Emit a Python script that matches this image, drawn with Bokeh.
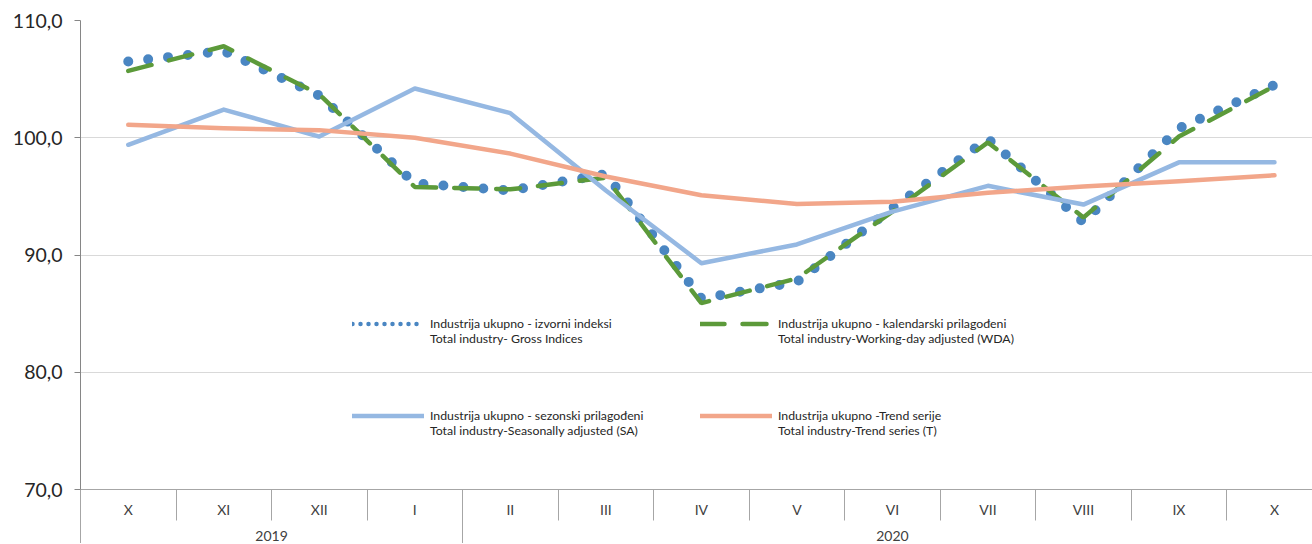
from bokeh.plotting import figure
from bokeh.models import (ColumnDataSource, Range1d, LinearAxis, FixedTicker,
                          Legend, LegendItem, Grid)
from bokeh.embed import file_html
from bokeh.resources import INLINE

# ---------------- data ----------------
months = ["X", "XI", "XII", "I", "II", "III", "IV", "V", "VI", "VII", "VIII", "IX", "X"]
years = ["2019", "2020"]
year_span = [4, 9]          # number of month slots under each year label
gross = [106.5, 107.4, 103.6, 96.1, 95.5, 96.9, 86.3, 87.7, 94.0, 99.9, 92.8, 100.8, 104.5]
wda = [105.7, 107.8, 103.7, 95.8, 95.6, 96.6, 85.9, 88.0, 93.7, 99.6, 93.2, 100.1, 104.4]
sa = [99.4, 102.4, 100.1, 104.2, 102.1, 95.5, 89.3, 90.9, 93.7, 95.9, 94.3, 97.9, 97.9]
trend = [101.1, 100.8, 100.65, 100.0, 98.65, 96.7, 95.1, 94.35, 94.55, 95.3, 95.85, 96.3, 96.8]
y_ticks = [70, 80, 90, 100, 110]
legend_labels = [
    "Industrija ukupno - izvorni indeksi\nTotal industry- Gross Indices",
    "Industrija ukupno - kalendarski prilagođeni\nTotal industry-Working-day adjusted (WDA)",
    "Industrija ukupno - sezonski prilagođeni\nTotal industry-Seasonally adjusted (SA)",
    "Industrija ukupno -Trend serije\nTotal industry-Trend series (T)",
]

C_GROSS = "#4a86c2"
C_WDA = "#5c9a3a"
C_SA = "#95b8e2"
C_TREND = "#f2a68a"
FONT = "Lato"

x = list(range(len(months)))
src = ColumnDataSource(dict(x=x, gross=gross, wda=wda, sa=sa, trend=trend))

p = figure(frame_width=1232, frame_height=469,
           x_range=Range1d(-0.5, 12.398), y_range=Range1d(70, 110),
           x_axis_type=None, y_axis_type=None,
           output_backend="svg", toolbar_location=None,
           min_border=0)
p.min_border_left = 80
p.min_border_top = 20
p.outline_line_color = None
p.background_fill_color = "white"

# grid
p.add_layout(Grid(dimension=1, ticker=FixedTicker(ticks=y_ticks),
                  grid_line_color="#d9d9d9", grid_line_width=1), "center")

# y axis
yax = LinearAxis(ticker=FixedTicker(ticks=y_ticks),
                 major_label_overrides={t: f"{t:.1f}".replace(".", ",") for t in y_ticks})
yax.axis_line_color = "#868686"
yax.major_tick_line_color = "#868686"
yax.major_tick_out = 6
yax.major_tick_in = 0
yax.minor_tick_line_color = None
yax.major_label_standoff = 12
yax.major_label_text_font = FONT
yax.major_label_text_font_size = "19.5px"
yax.major_label_text_color = "#262626"
p.add_layout(yax, "left")

# month axis (minor ticks are the category separators)
xax = LinearAxis(ticker=FixedTicker(ticks=x, minor_ticks=[i - 0.5 for i in x]),
                 major_label_overrides={i: m for i, m in zip(x, months)})
xax.axis_line_color = "#a6a6a6"
xax.major_tick_line_color = None
xax.major_tick_out = 0
xax.major_tick_in = 0
xax.minor_tick_line_color = "#a6a6a6"
xax.minor_tick_out = 31
xax.minor_tick_in = 0
xax.major_label_standoff = -20
xax.major_label_text_font = FONT
xax.major_label_text_font_size = "14px"
xax.major_label_text_color = "#404040"
p.add_layout(xax, "below")

# year axis
centers, bounds, start = [], [], -0.5
for n in year_span:
    bounds.append(start)
    centers.append(start + n / 2)
    start += n
yrax = LinearAxis(ticker=FixedTicker(ticks=centers, minor_ticks=bounds),
                  major_label_overrides={c: yv for c, yv in zip(centers, years)})
yrax.axis_line_color = None
yrax.major_tick_line_color = None
yrax.major_tick_out = 0
yrax.major_tick_in = 0
yrax.minor_tick_line_color = "#a6a6a6"
yrax.minor_tick_in = 10
yrax.minor_tick_out = 27
yrax.major_label_standoff = -17
yrax.major_label_text_font = FONT
yrax.major_label_text_font_size = "14px"
yrax.major_label_text_color = "#404040"
p.add_layout(yrax, "below")

# series
r_gross = p.line("x", "gross", source=src, line_color=C_GROSS, line_width=10,
                 line_dash="0 20", line_cap="round")
r_wda = p.line("x", "wda", source=src, line_color=C_WDA, line_width=4.5,
               line_dash="24 18", line_cap="round")
r_sa = p.line("x", "sa", source=src, line_color=C_SA, line_width=4.5,
              line_join="round", line_cap="round")
r_trend = p.line("x", "trend", source=src, line_color=C_TREND, line_width=4.5,
                 line_join="round", line_cap="round")

# legend-only sample for the dotted series (smaller dots as in the reference)
nan = float("nan")
lg_gross = p.line(x=[nan], y=[nan], line_color=C_GROSS, line_width=4.5,
                  line_dash="0 8", line_cap="round")

# a leading blank line keeps each sample level with the first text line
items = [LegendItem(label="\n" + legend_labels[0], renderers=[lg_gross]),
         LegendItem(label="\n" + legend_labels[1], renderers=[r_wda]),
         LegendItem(label="\n" + legend_labels[2], renderers=[r_sa]),
         LegendItem(label="\n" + legend_labels[3], renderers=[r_trend])]
legend = Legend(items=items, location=(272, 51), orientation="horizontal", ncols=2)
legend.glyph_width = 72
legend.glyph_height = 17
legend.label_standoff = 6
legend.label_width = 223
legend.spacing = 47
legend.padding = 0
legend.margin = 0
legend.border_line_color = None
legend.background_fill_alpha = 0
legend.label_text_font = FONT
legend.label_text_font_size = "12.3px"
legend.label_text_color = "#262626"
p.add_layout(legend, "center")

open("out.html", "w").write(file_html(p, INLINE))
